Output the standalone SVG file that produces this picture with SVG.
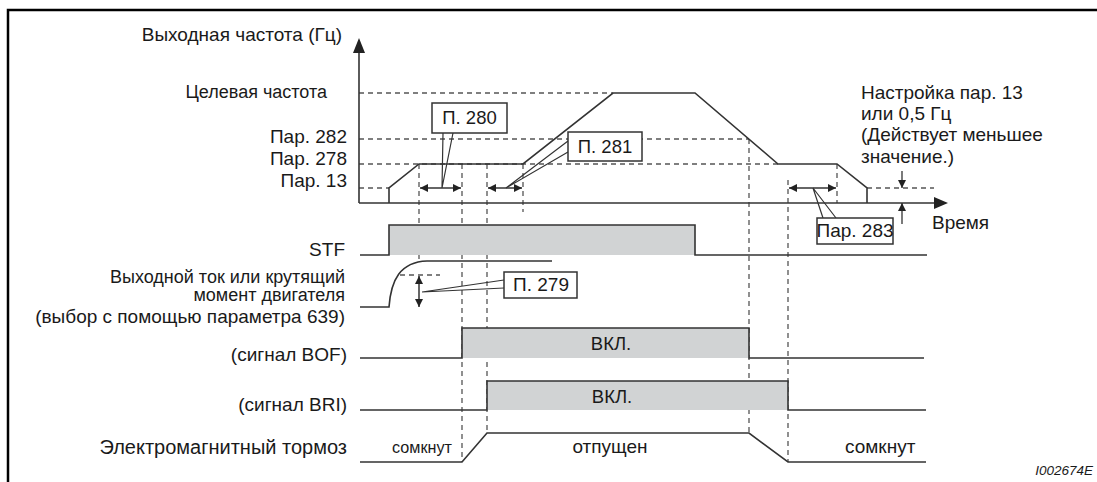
<svg xmlns="http://www.w3.org/2000/svg" width="1097" height="482" viewBox="0 0 1097 482">
<style>
.t{font-family:"Liberation Sans",Arial,sans-serif;font-size:19px;fill:#1a1a1a}
.r{text-anchor:end}
.m{text-anchor:middle}
.ln{stroke:#333;stroke-width:1.6;fill:none}
.ax{stroke:#333;stroke-width:1.6;fill:none}
.dash{stroke:#555;stroke-width:1.3;stroke-dasharray:5 4;fill:none}
.gf{fill:#d1d3d4}
.box{fill:#fff;stroke:#333;stroke-width:1.5}
.ptr{stroke:#333;stroke-width:1.2;fill:none}
.da{stroke:#333;stroke-width:1.5;fill:none;marker-start:url(#ah);marker-end:url(#ah)}
.sa{stroke:#333;stroke-width:1.3;fill:none;marker-end:url(#ah)}
</style>
<defs>
<marker id="ah" viewBox="0 0 10 10" refX="10" refY="5" markerWidth="10" markerHeight="8" markerUnits="userSpaceOnUse" orient="auto-start-reverse">
<path d="M0,0 L10,5 L0,10 Z" fill="#222"/>
</marker>
</defs>
<rect width="1097" height="482" fill="#fff"/>
<g id="frame">
<path d="M8,482 V10 H1097" stroke="#000" stroke-width="2.5" fill="none"/>
</g>
<g id="guides">
<path class="dash" d="M359,93 H613 M359,139 H749 M359,164 H778 M359,188 H389 M867,188 H934"/>
<path class="dash" d="M419,164 V262 M462,164 V462 M487,164 V433 M523,164 V212 M749,139 V433 M788,180 V462 M837,164 V203"/>
<path class="dash" d="M400,275 H440"/>
</g>
<g id="axes">
<path class="ax" d="M359,203 V50"/>
<path d="M359,38 L353,53 L365,53 Z" fill="#222"/>
<path class="ax" d="M359,203 H936"/>
<path d="M948,203 L934,197 L934,209 Z" fill="#222"/>
<text class="t r" x="342" y="41">Выходная частота (Гц)</text>
<text class="t" x="932" y="229">Время</text>
</g>
<g id="frequency">
<path class="ln" d="M389,203 V188 L419,164 H523 L613,93 H695 L778,164 H837 L867,188 V203"/>
<text class="t r" x="327" y="98" style="font-size:18px">Целевая частота</text>
<text class="t r" x="347" y="143">Пар. 282</text>
<text class="t r" x="347" y="165">Пар. 278</text>
<text class="t r" x="347" y="187">Пар. 13</text>
<text class="t" x="861" y="99">Настройка пар. 13</text>
<text class="t" x="861" y="120">или 0,5 Гц</text>
<text class="t" x="861" y="141">(Действует меньшее</text>
<text class="t" x="861" y="163">значение.)</text>
</g>
<g id="stf">
<rect class="gf" x="389" y="225" width="306" height="30"/>
<path class="ln" d="M360,255 H389 V225 H695 V255 H927"/>
<text class="t r" x="345" y="256">STF</text>
</g>
<g id="current">
<path class="ln" d="M360,307 H389 C391,280 400,262 427,261 H552"/>
<text class="t r" x="345" y="283" style="font-size:18px">Выходной ток или крутящий</text>
<text class="t r" x="345" y="301" style="font-size:18px">момент двигателя</text>
<text class="t r" x="345" y="323" style="font-size:19px">(выбор с помощью параметра 639)</text>
</g>
<g id="bof">
<rect class="gf" x="462" y="328" width="287" height="30"/>
<path class="ln" d="M360,358 H462 V328 H749 V358 H924"/>
<text class="t r" x="347" y="361">(сигнал BOF)</text>
<text class="t m" x="611" y="350" style="font-size:18.5px">ВКЛ.</text>
</g>
<g id="bri">
<rect class="gf" x="487" y="381" width="301" height="29"/>
<path class="ln" d="M360,410 H487 V381 H788 V410 H926"/>
<text class="t r" x="347" y="411">(сигнал BRI)</text>
<text class="t m" x="612" y="403" style="font-size:18.5px">ВКЛ.</text>
</g>
<g id="brake">
<path class="ln" d="M360,462 H462 L487,433 H749 L788,462 H926"/>
<text class="t r" x="347" y="454" style="font-size:20px">Электромагнитный тормоз</text>
<text class="t" x="392" y="453" style="font-size:17px" textLength="60" lengthAdjust="spacingAndGlyphs">сомкнут</text>
<text class="t m" x="610" y="453">отпущен</text>
<text class="t" x="845" y="453">сомкнут</text>
</g>
<g id="connectors">
<path class="da" d="M420,188 H461"/>
<path class="da" d="M488,188 H522"/>
<path class="da" d="M789,188 H836"/>
<path class="da" d="M419,276 V307"/>
<path class="sa" d="M902,171 V188"/>
<path class="sa" d="M902,224 V203"/>
<path class="ptr" d="M443,133 L442,188 L453,133"/>
<path class="ptr" d="M568,141 L506,188 L568,152"/>
<path class="ptr" d="M504,280 L422,292 L504,288"/>
<path class="ptr" d="M823,218 L813,188 L836,218"/>
</g>
<g id="callout-280">
<rect class="box" x="432" y="103" width="75" height="30"/>
<text class="t m" x="469.5" y="124" style="font-size:18.5px">П. 280</text>
</g>
<g id="callout-281">
<rect class="box" x="568" y="132" width="74" height="29"/>
<text class="t m" x="605" y="153" style="font-size:18.5px">П. 281</text>
</g>
<g id="callout-279">
<rect class="box" x="504" y="272" width="73" height="26"/>
<text class="t m" x="541" y="291" style="font-size:19px">П. 279</text>
</g>
<g id="callout-283">
<rect class="box" x="817" y="218" width="76" height="26"/>
<text class="t m" x="855" y="237">Пар. 283</text>
</g>
<text x="1093" y="475" text-anchor="end" style="font-family:'Liberation Sans',Arial,sans-serif;font-size:13.5px;font-style:italic;fill:#1a1a1a">I002674E</text>
</svg>
